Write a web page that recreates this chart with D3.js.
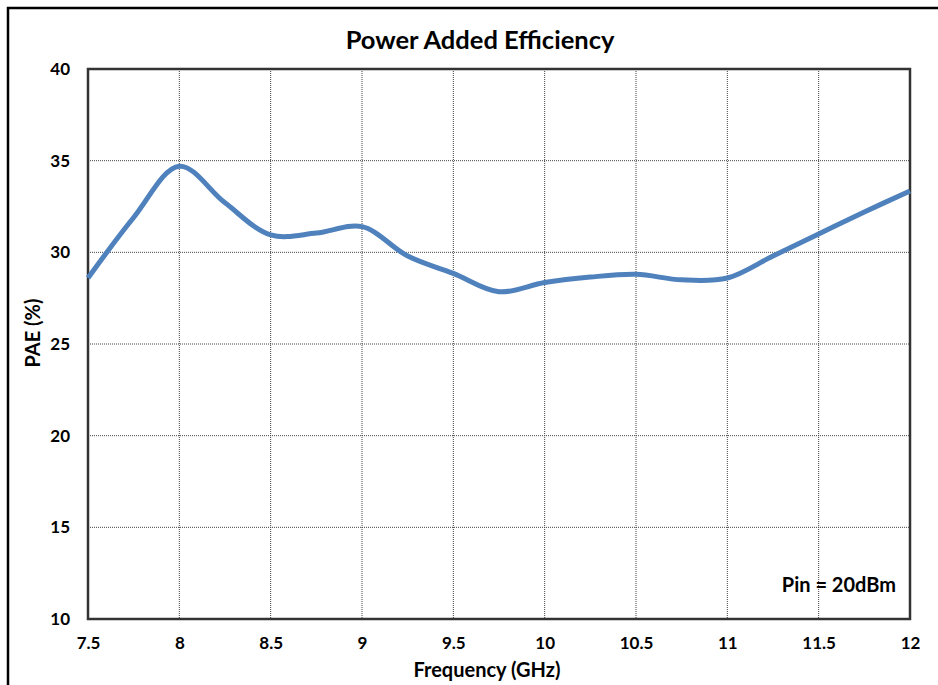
<!DOCTYPE html>
<html lang="en">
<head>
  <meta charset="UTF-8" />
  <title>Power Added Efficiency</title>
  <script src="https://d3js.org/d3.v7.min.js" charset="utf-8"></script>
  <style>
    body { margin: 0; background: #fff; }
    text { font-family: Lato, "Open Sans", Arial, sans-serif; font-weight: bold; fill: #000; }
  </style>
</head>
<body>
<script type="text/javascript">

const WIDTH = 938;
const HEIGHT = 685;

// frequency (GHz) and PAE (%)
const freq = [7.5, 7.75, 8, 8.25, 8.5, 8.75, 9, 9.25, 9.5, 9.75, 10, 10.25, 10.5, 10.75, 11, 11.25, 11.5, 11.75, 12];
const pae = [28.6, 31.9, 34.7, 32.7, 30.95, 31.05, 31.4, 29.8, 28.85, 27.85, 28.35, 28.65, 28.8, 28.5, 28.6, 29.8, 31.0, 32.2, 33.35];
const xTicks = [7.5, 8, 8.5, 9, 9.5, 10, 10.5, 11, 11.5, 12];
const yTicks = [10, 15, 20, 25, 30, 35, 40];

const m = {left: 88, top: 69, right: 910, bottom: 619};
const FONT = "Lato, 'Open Sans', Arial, sans-serif";

const svg = d3.select("body")
    .append("svg")
        .attr("width", WIDTH)
        .attr("height", HEIGHT);

// outer frame
svg.append("rect")
    .attr("x", 8).attr("y", 8)
    .attr("width", 960).attr("height", 700)
    .attr("fill", "none")
    .attr("stroke", "#000")
    .attr("stroke-width", 2.5);

const x = d3.scaleLinear().domain([7.5, 12]).range([m.left, m.right]);
const y = d3.scaleLinear().domain([10, 40]).range([m.bottom, m.top]);

// grid
svg.append("g")
    .selectAll("line")
    .data(xTicks.slice(1, -1))
    .join("line")
        .attr("x1", d => x(d)).attr("x2", d => x(d))
        .attr("y1", m.top).attr("y2", m.bottom)
        .attr("stroke", "#444")
        .attr("stroke-width", 1)
        .attr("stroke-dasharray", "1,1");
svg.append("g")
    .selectAll("line")
    .data(yTicks.slice(1, -1))
    .join("line")
        .attr("x1", m.left).attr("x2", m.right)
        .attr("y1", d => y(d)).attr("y2", d => y(d))
        .attr("stroke", "#444")
        .attr("stroke-width", 1)
        .attr("stroke-dasharray", "1,1");

// axes (labels only)
svg.append("g")
    .attr("transform", `translate(0,${m.bottom})`)
    .call(d3.axisBottom(x).tickValues(xTicks).tickSize(0).tickPadding(18).tickFormat(d => d))
    .call(g => g.select(".domain").remove())
    .call(g => g.selectAll("text").attr("font-size", 17).attr("fill", "#000")
        .attr("font-family", FONT).attr("font-weight", "bold"));
svg.append("g")
    .attr("transform", `translate(${m.left},0)`)
    .call(d3.axisLeft(y).tickValues(yTicks).tickSize(0).tickPadding(18))
    .call(g => g.select(".domain").remove())
    .call(g => g.selectAll("text").attr("font-size", 17).attr("fill", "#000")
        .attr("font-family", FONT).attr("font-weight", "bold"));

// plot border
svg.append("rect")
    .attr("x", m.left).attr("y", m.top)
    .attr("width", m.right - m.left).attr("height", m.bottom - m.top)
    .attr("fill", "none")
    .attr("stroke", "#333")
    .attr("stroke-width", 2.5);

// curve
const line = d3.line()
    .x((d, i) => x(freq[i]))
    .y(d => y(d))
    .curve(d3.curveCatmullRom.alpha(0.5));
svg.append("path")
    .datum(pae)
    .attr("fill", "none")
    .attr("stroke", "#4F81BD")
    .attr("stroke-width", 5)
    .attr("stroke-linejoin", "round")
    .attr("d", line);

// titles
svg.append("text")
    .attr("x", 480).attr("y", 49)
    .attr("text-anchor", "middle")
    .attr("font-size", 25.5)
    .text("Power Added Efficiency");
svg.append("text")
    .attr("x", 487).attr("y", 677)
    .attr("text-anchor", "middle")
    .attr("font-size", 20)
    .text("Frequency (GHz)");
svg.append("text")
    .attr("transform", `translate(40,${(m.top + m.bottom) / 2 - 11}) rotate(-90)`)
    .attr("text-anchor", "middle")
    .attr("font-size", 20)
    .text("PAE (%)");
svg.append("text")
    .attr("x", 896).attr("y", 592)
    .attr("text-anchor", "end")
    .attr("font-size", 20)
    .text("Pin = 20dBm");

</script>
</body>
</html>
